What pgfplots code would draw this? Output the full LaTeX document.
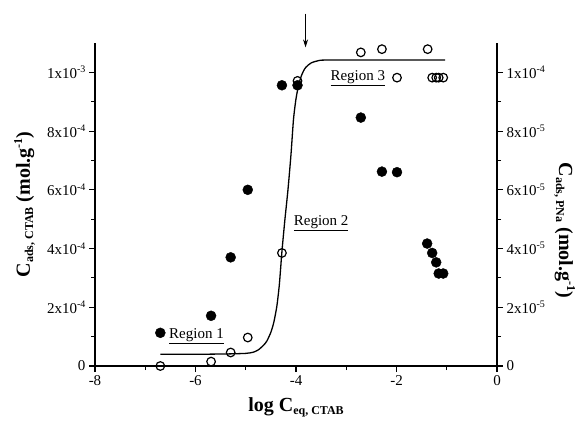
\documentclass[border=0pt]{standalone}
\usepackage{fontspec}
\setmainfont{Liberation Serif}
\usepackage{pgfplots}
\pgfplotsset{compat=1.18}
\usetikzlibrary{arrows.meta}

% tick label like 2x10^-4, all in text font
\newcommand{\tk}[2]{#1x10\raisebox{0.8ex}{\fontsize{10}{10}\selectfont #2}}
\newcommand{\lsub}[1]{\raisebox{-0.35ex}{\fontsize{12}{12}\selectfont #1}}
\newcommand{\lsup}[1]{\raisebox{0.85ex}{\fontsize{12}{12}\selectfont #1}}

\pgfplotsset{
    base/.style={
        scale only axis,
        width=402pt,
        height=323pt,
        xmin=-8, xmax=0,
        tick align=outside,
        major tick length=6pt,
        minor tick length=4pt,
        axis line style={-, line width=1.3pt},
        every tick/.style={black, line width=1.1pt},
        tick label style={font=\fontsize{15}{15}\selectfont},
        scaled y ticks=false,
        clip=false,
    },
}

\begin{document}
\begin{tikzpicture}

\begin{axis}[
    base,
    axis x line*=bottom,
    axis y line*=left,
    ymin=0, ymax=1.1e-3,
    xtick={-8,-6,-4,-2,0},
    xticklabels={-8,-6,-4,-2,0},
    minor x tick num=1,
    ytick={0,2e-4,4e-4,6e-4,8e-4,1e-3},
    yticklabels={0,\tk{2}{-4},\tk{4}{-4},\tk{6}{-4},\tk{8}{-4},\tk{1}{-3}},
    minor y tick num=1,
    xlabel={log C\lsub{eq, CTAB}},
    ylabel={C\lsub{ads, CTAB} (mol.g\lsup{-1})},
    every axis x label/.style={at={(axis description cs:0.5,-0.128)}, anchor=center,
        font=\bfseries\fontsize{20}{20}\selectfont},
    every axis y label/.style={at={(axis description cs:-0.175,0.5)}, rotate=90, anchor=center,
        font=\bfseries\fontsize{20}{20}\selectfont},
]
% fitted curve
\addplot[black, line width=1.3pt, smooth, tension=0.4] coordinates {
    (-6.70,0.040e-3) (-6.00,0.040e-3) (-5.40,0.041e-3) (-5.00,0.043e-3)
    (-4.85,0.047e-3) (-4.75,0.055e-3) (-4.65,0.070e-3) (-4.58,0.085e-3)
    (-4.50,0.115e-3) (-4.44,0.150e-3) (-4.38,0.205e-3) (-4.33,0.280e-3)
    (-4.28,0.390e-3) (-4.22,0.500e-3) (-4.16,0.600e-3) (-4.10,0.720e-3)
    (-4.05,0.840e-3) (-4.00,0.910e-3) (-3.95,0.955e-3) (-3.90,0.985e-3)
    (-3.85,1.005e-3) (-3.80,1.018e-3) (-3.70,1.032e-3) (-3.55,1.040e-3)
    (-3.30,1.042e-3) (-1.03,1.042e-3)
};
% CTAB adsorbed (filled)
\addplot[only marks, mark=*, mark size=5pt, black] coordinates {
    (-6.70,1.13e-4) (-5.69,1.71e-4) (-5.30,3.70e-4) (-4.96,6.00e-4)
    (-4.28,9.56e-4) (-3.97,9.56e-4) (-2.71,8.46e-4) (-2.29,6.62e-4)
    (-1.99,6.60e-4) (-1.39,4.17e-4) (-1.29,3.85e-4) (-1.21,3.53e-4)
    (-1.16,3.15e-4) (-1.07,3.15e-4)
};
\node[font=\fontsize{15}{15}\selectfont] at (axis cs:-5.98,1.00e-4) {\underline{Region 1}};
\node[font=\fontsize{15}{15}\selectfont] at (axis cs:-3.50,4.85e-4) {\underline{Region 2}};
\node[font=\fontsize{15}{15}\selectfont] at (axis cs:-2.77,9.80e-4) {\underline{Region 3}};
\draw[-{Stealth[length=8pt,width=5pt]}, line width=1pt] (axis cs:-3.81,1.20e-3) -- (axis cs:-3.81,1.085e-3);
\end{axis}

\begin{axis}[
    base,
    axis x line=none,
    axis y line*=right,
    ymin=0, ymax=1.1e-4,
    ytick={0,2e-5,4e-5,6e-5,8e-5,1e-4},
    yticklabels={0,\tk{2}{-5},\tk{4}{-5},\tk{6}{-5},\tk{8}{-5},\tk{1}{-4}},
    minor y tick num=1,
    ylabel={C\lsub{ads, PNa} (mol.g\lsup{-1})},
    every axis y label/.style={at={(axis description cs:1.168,0.42)}, rotate=-90, anchor=center,
        font=\bfseries\fontsize{20}{20}\selectfont},
]
% PNa adsorbed (open)
\addplot[only marks, mark=o, mark size=4.3pt, line width=1.2pt, black] coordinates {
    (-6.70,0) (-5.69,1.5e-6) (-5.30,4.6e-6) (-4.96,9.7e-6)
    (-4.28,3.85e-5) (-3.97,9.71e-5) (-2.71,1.068e-4) (-2.29,1.079e-4)
    (-1.99,9.82e-5) (-1.38,1.079e-4) (-1.29,9.82e-5) (-1.21,9.82e-5)
    (-1.16,9.82e-5) (-1.07,9.82e-5)
};
\end{axis}

\pgfresetboundingbox
\path[use as bounding box] ([xshift=-95pt,yshift=-64pt]current axis.south west)
    rectangle ([xshift=80pt,yshift=43pt]current axis.north east);
\end{tikzpicture}
\end{document}
